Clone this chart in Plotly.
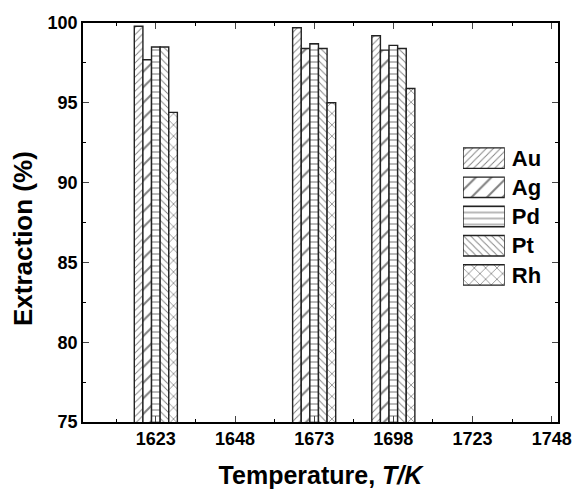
import plotly.graph_objects as go

temps = [1623, 1673, 1698]
metals = ["Au", "Ag", "Pd", "Pt", "Rh"]
au = [99.8, 99.7, 99.2]
ag = [97.7, 98.4, 98.3]
pd_ = [98.5, 98.7, 98.6]
pt = [98.5, 98.4, 98.4]
rh = [94.4, 95.0, 95.9]
series = [au, ag, pd_, pt, rh]
shapes = ["/", "/", "-", "\\", "x"]
sizes = [5, 11, 6, 5, 8]
x_ticks = [1623, 1648, 1673, 1698, 1723, 1748]
y_ticks = [75, 80, 85, 90, 95, 100]

font = "Liberation Sans, Arial, sans-serif"
fig = go.Figure()
for name, vals, sh, sz in zip(metals, series, shapes, sizes):
    fig.add_trace(go.Bar(
        x=temps, y=vals, name=name, showlegend=False,
        marker=dict(color="white", line=dict(color="#222", width=1.4),
                    pattern=dict(shape=sh, size=sz, solidity=0.18,
                                 fgcolor="black", bgcolor="white", fillmode="overlay")),
    ))

# legend drawn as a small horizontal bar chart of swatches
fig.add_trace(go.Bar(
    y=metals, x=[1] * len(metals), orientation="h", xaxis="x2", yaxis="y2",
    width=0.7, offset=-0.35, showlegend=False, hoverinfo="skip",
    marker=dict(color="white", line=dict(color="#222", width=1.4),
                pattern=dict(shape=shapes, size=sizes, solidity=0.18,
                             fgcolor="black", bgcolor="white", fillmode="overlay")),
))

fig.update_layout(
    width=576, height=490,
    margin=dict(l=83, r=18, t=23, b=68),
    paper_bgcolor="white", plot_bgcolor="white",
    barmode="group", bargap=0.456, bargroupgap=0,
    font=dict(family=font, color="black"),
    showlegend=False,
    xaxis=dict(range=[1600, 1750], tickvals=x_ticks, ticks="inside", ticklen=6,
               showline=True, linecolor="black", linewidth=1.5, mirror="ticks",
               showgrid=False, zeroline=False, automargin=False,
               tickfont=dict(size=18, family=font, weight="bold"),
               minor=dict(dtick=12.5, tick0=1623, ticks="inside", ticklen=3, tickcolor="black"),
               title=dict(text="Temperature, <i>T/K</i>", font=dict(size=25, family=font, weight="bold"), standoff=18)),
    yaxis=dict(range=[75, 100], tickvals=y_ticks, ticks="inside", ticklen=6,
               showline=True, linecolor="black", linewidth=1.5, mirror="ticks",
               showgrid=False, zeroline=False, automargin=False,
               tickfont=dict(size=18, family=font, weight="bold"),
               minor=dict(dtick=2.5, ticks="inside", ticklen=3, tickcolor="black")),
    xaxis2=dict(domain=[0.8, 0.888], anchor="y2", range=[0, 1], visible=False, fixedrange=True),
    yaxis2=dict(domain=[0.332, 0.698], anchor="x2", side="right", autorange="reversed",
                showline=False, showgrid=False, zeroline=False, ticks="", automargin=False,
                ticklabelstandoff=6,
                tickfont=dict(size=22, family=font, weight="bold")),
    annotations=[dict(text="Extraction (%)", xref="paper", yref="paper", x=-0.126, y=0.459,
                      textangle=-90, showarrow=False, xanchor="center", yanchor="middle",
                      font=dict(size=26, family=font, weight="bold"))],
)
fig.write_html(
    "out.html",
    config={"displayModeBar": False},
    post_script="document.body.style.margin='0';document.documentElement.style.overflow='hidden';",
)
